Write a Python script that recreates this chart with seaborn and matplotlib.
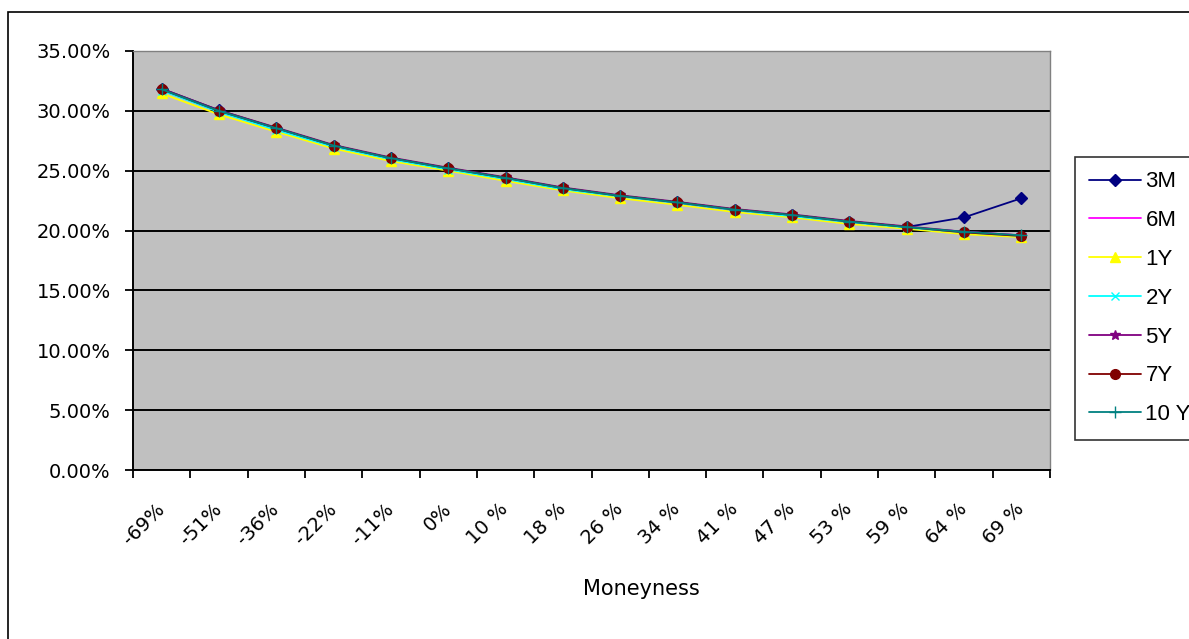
import matplotlib
matplotlib.use('Agg')
import pandas as pd
import seaborn as sns
import matplotlib.pyplot as plt
import matplotlib.transforms as mtransforms
from matplotlib.patches import Rectangle
from matplotlib.ticker import FuncFormatter

# Moneyness buckets and implied vols (in %)
moneyness = ['-69%', '-51%', '-36%', '-22%', '-11%', '0%', '10 %', '18 %', '26 %',
             '34 %', '41 %', '47 %', '53 %', '59 %', '64 %', '69 %']

vol_3m = [31.85, 30.05, 28.55, 27.10, 26.05, 25.20, 24.40, 23.55, 22.90,
          22.35, 21.75, 21.30, 20.75, 20.30, 21.10, 22.70]
vol_6m = [31.75, 29.95, 28.50, 27.05, 26.00, 25.15, 24.35, 23.50, 22.90,
          22.30, 21.65, 21.20, 20.70, 20.30, 19.90, 19.60]
vol_1y = [31.45, 29.70, 28.25, 26.85, 25.80, 25.00, 24.15, 23.35, 22.70,
          22.15, 21.55, 21.10, 20.55, 20.15, 19.70, 19.45]
vol_2y = [31.70, 29.90, 28.40, 27.00, 25.95, 25.10, 24.30, 23.45, 22.85,
          22.30, 21.70, 21.20, 20.70, 20.25, 19.85, 19.55]
vol_5y = [31.85, 30.05, 28.60, 27.15, 26.10, 25.25, 24.45, 23.60, 22.95,
          22.40, 21.80, 21.35, 20.80, 20.35, 19.90, 19.60]
vol_7y = [31.80, 30.00, 28.55, 27.10, 26.05, 25.20, 24.40, 23.55, 22.90,
          22.35, 21.75, 21.30, 20.75, 20.30, 19.85, 19.55]
vol_10y = [31.80, 30.00, 28.55, 27.10, 26.05, 25.20, 24.40, 23.55, 22.90,
           22.35, 21.75, 21.30, 20.75, 20.30, 19.90, 19.60]

series = [('3M', vol_3m), ('6M', vol_6m), ('1Y', vol_1y), ('2Y', vol_2y),
          ('5Y', vol_5y), ('7Y', vol_7y), ('10 Y', vol_10y)]

styles = {
    '3M': dict(color='#000080', marker='D', markersize=6),
    '6M': dict(color='#FF00FF', marker=None),
    '1Y': dict(color='#FFFF00', marker='^', markersize=7),
    '2Y': dict(color='#00FFFF', marker='x', markersize=6, markeredgewidth=1),
    '5Y': dict(color='#800080', marker='*', markersize=7),
    '7Y': dict(color='#800000', marker='o', markersize=7),
    '10 Y': dict(color='#008080', marker='+', markersize=8, markeredgewidth=1),
}

# long format table for seaborn
rows = []
for name, vals in series:
    for i, v in enumerate(vals):
        rows.append({'pos': i, 'vol': v, 'tenor': name})
df = pd.DataFrame(rows)

sns.set_style('white')
plt.rcParams['font.family'] = ['DejaVu Sans']
plt.rcParams['text.color'] = 'black'
plt.rcParams['xtick.color'] = 'black'
plt.rcParams['ytick.color'] = 'black'

fig = plt.figure(figsize=(11.89, 6.39), dpi=100)
ax = fig.add_axes([133 / 1189, 1 - 470 / 639, (1050 - 133) / 1189, (470 - 51) / 639])
ax.set_facecolor('#C0C0C0')

for name, _ in series:
    st = styles[name]
    sub = df[df['tenor'] == name]
    kw = dict(linewidth=1.3, markeredgecolor=st['color'])
    if st.get('marker'):
        kw.update(marker=st['marker'], markersize=st['markersize'],
                  markeredgewidth=st.get('markeredgewidth', 1))
    sns.lineplot(data=sub, x='pos', y='vol', color=st['color'], ax=ax,
                 label=name, zorder=3, **kw)

ax.set_xlim(-0.5, len(moneyness) - 0.5)
ax.set_ylim(0, 35)
ax.set_yticks(range(0, 36, 5))
ax.yaxis.set_major_formatter(FuncFormatter(lambda v, p: '%.2f%%' % v))
ax.grid(axis='y', color='black', linewidth=1.4)
ax.set_axisbelow(True)

# ticks at category boundaries, labels at category centres
ax.set_xticks([i - 0.5 for i in range(len(moneyness) + 1)])
ax.set_xticklabels([])
ax.set_xticks(range(len(moneyness)), minor=True)
ax.set_xticklabels(moneyness, minor=True, rotation=45, ha='right',
                   rotation_mode='anchor', fontsize=14)
shift = mtransforms.ScaledTranslation(-7 / 100, 0, fig.dpi_scale_trans)
for t in ax.get_xticklabels(minor=True):
    t.set_va('center')
    t.set_transform(t.get_transform() + shift)
ax.tick_params(axis='x', which='minor', length=0, pad=26)
ax.tick_params(axis='x', which='major', direction='out', length=6, width=1.3,
               color='black', bottom=True)
ax.tick_params(axis='y', direction='out', length=6, width=1.3, color='black',
               left=True, labelsize=14, pad=10)
ax.set_xlabel('')
ax.set_ylabel('')

for s in ['left', 'bottom']:
    ax.spines[s].set_color('black')
    ax.spines[s].set_linewidth(1.4)
for s in ['top', 'right']:
    ax.spines[s].set_color('#808080')
    ax.spines[s].set_linewidth(1)

fig.text(641 / 1189, 1 - 589 / 639, 'Moneyness', ha='center', va='center',
         fontsize=15)

leg = ax.legend(loc='upper left', bbox_to_anchor=(1075 / 1189, 1 - 157 / 639),
                bbox_transform=fig.transFigure, frameon=True, fancybox=False,
                prop={'family': ['Liberation Sans', 'DejaVu Sans'], 'size': 16},
                handlelength=2.3, handletextpad=0.22,
                labelspacing=0.8, borderpad=0.65, borderaxespad=0)
leg.get_frame().set_edgecolor('black')
leg.get_frame().set_linewidth(1.2)

# chart area border (right and bottom edges fall outside the image)
fig.patches.append(Rectangle((8 / 1189, -0.2), 1.2, 1.2 - 12 / 639,
                             transform=fig.transFigure, fill=False,
                             edgecolor='black', linewidth=1.2))

fig.savefig('out.png', dpi=100)
